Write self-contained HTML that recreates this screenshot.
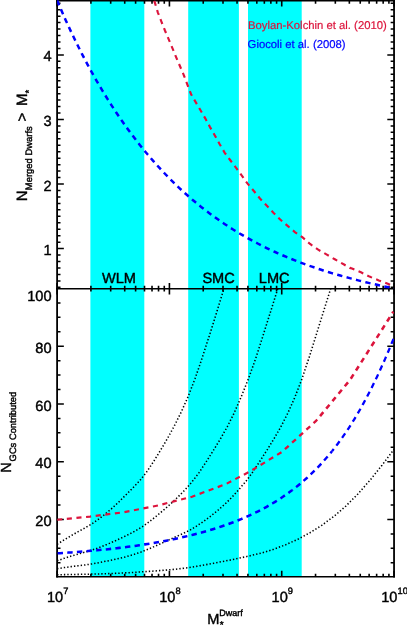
<!DOCTYPE html>
<html><head><meta charset="utf-8"><title>plot</title>
<style>html,body{margin:0;padding:0;background:#fff;}body{width:407px;height:626px;overflow:hidden;}svg{display:block;}text{font-family:"Liberation Sans",sans-serif;stroke-width:0.4px;text-rendering:geometricPrecision;}</style></head><body>
<svg width="407" height="626" viewBox="0 0 407 626" style="will-change:transform">
<rect x="0" y="0" width="407" height="626" fill="#fff"/>
<defs><clipPath id="ct"><rect x="57.10" y="0" width="336.95" height="288.70"/></clipPath><clipPath id="cl"><rect x="57.10" y="288.70" width="336.95" height="287.95"/></clipPath></defs>
<rect x="90.40" y="0" width="53.90" height="576.65" fill="#00ffff"/>
<rect x="188.20" y="0" width="50.70" height="576.65" fill="#00ffff"/>
<rect x="248.00" y="0" width="53.70" height="576.65" fill="#00ffff"/>
<g stroke="#000" fill="none" stroke-linecap="butt">
<path d="M57.10 0 V577.40" stroke-width="1.80"/>
<path d="M394.05 0 V577.40" stroke-width="1.80"/>
<path d="M56.20 0.75 H394.95" stroke-width="1.50"/>
<path d="M56.20 288.70 H394.95" stroke-width="1.50"/>
<path d="M56.20 576.65 H394.95" stroke-width="1.50"/>
</g>
<path d="M57.10 0.75 v5.80 M57.10 282.90 v11.60 M57.10 576.65 v-5.80 M90.91 0.75 v2.90 M90.91 285.80 v5.80 M90.91 576.65 v-2.90 M110.69 0.75 v2.90 M110.69 285.80 v5.80 M110.69 576.65 v-2.90 M124.72 0.75 v2.90 M124.72 285.80 v5.80 M124.72 576.65 v-2.90 M135.61 0.75 v2.90 M135.61 285.80 v5.80 M135.61 576.65 v-2.90 M144.50 0.75 v2.90 M144.50 285.80 v5.80 M144.50 576.65 v-2.90 M152.02 0.75 v2.90 M152.02 285.80 v5.80 M152.02 576.65 v-2.90 M158.53 0.75 v2.90 M158.53 285.80 v5.80 M158.53 576.65 v-2.90 M164.28 0.75 v2.90 M164.28 285.80 v5.80 M164.28 576.65 v-2.90 M169.42 0.75 v5.80 M169.42 282.90 v11.60 M169.42 576.65 v-5.80 M203.23 0.75 v2.90 M203.23 285.80 v5.80 M203.23 576.65 v-2.90 M223.01 0.75 v2.90 M223.01 285.80 v5.80 M223.01 576.65 v-2.90 M237.04 0.75 v2.90 M237.04 285.80 v5.80 M237.04 576.65 v-2.90 M247.92 0.75 v2.90 M247.92 285.80 v5.80 M247.92 576.65 v-2.90 M256.82 0.75 v2.90 M256.82 285.80 v5.80 M256.82 576.65 v-2.90 M264.34 0.75 v2.90 M264.34 285.80 v5.80 M264.34 576.65 v-2.90 M270.85 0.75 v2.90 M270.85 285.80 v5.80 M270.85 576.65 v-2.90 M276.59 0.75 v2.90 M276.59 285.80 v5.80 M276.59 576.65 v-2.90 M281.73 0.75 v5.80 M281.73 282.90 v11.60 M281.73 576.65 v-5.80 M315.54 0.75 v2.90 M315.54 285.80 v5.80 M315.54 576.65 v-2.90 M335.32 0.75 v2.90 M335.32 285.80 v5.80 M335.32 576.65 v-2.90 M349.35 0.75 v2.90 M349.35 285.80 v5.80 M349.35 576.65 v-2.90 M360.24 0.75 v2.90 M360.24 285.80 v5.80 M360.24 576.65 v-2.90 M369.13 0.75 v2.90 M369.13 285.80 v5.80 M369.13 576.65 v-2.90 M376.65 0.75 v2.90 M376.65 285.80 v5.80 M376.65 576.65 v-2.90 M383.17 0.75 v2.90 M383.17 285.80 v5.80 M383.17 576.65 v-2.90 M388.91 0.75 v2.90 M388.91 285.80 v5.80 M388.91 576.65 v-2.90 M394.05 0.75 v5.80 M394.05 282.90 v11.60 M394.05 576.65 v-5.80" stroke="#000" stroke-width="1.6" fill="none"/>
<path d="M57.10 287.34 h3.40 M394.05 287.34 h-3.40 M57.10 280.88 h3.40 M394.05 280.88 h-3.40 M57.10 274.43 h3.40 M394.05 274.43 h-3.40 M57.10 267.97 h3.40 M394.05 267.97 h-3.40 M57.10 261.51 h3.40 M394.05 261.51 h-3.40 M57.10 255.06 h3.40 M394.05 255.06 h-3.40 M57.10 248.60 h6.75 M394.05 248.60 h-6.75 M57.10 242.14 h3.40 M394.05 242.14 h-3.40 M57.10 235.69 h3.40 M394.05 235.69 h-3.40 M57.10 229.23 h3.40 M394.05 229.23 h-3.40 M57.10 222.77 h3.40 M394.05 222.77 h-3.40 M57.10 216.31 h3.40 M394.05 216.31 h-3.40 M57.10 209.86 h3.40 M394.05 209.86 h-3.40 M57.10 203.40 h3.40 M394.05 203.40 h-3.40 M57.10 196.94 h3.40 M394.05 196.94 h-3.40 M57.10 190.49 h3.40 M394.05 190.49 h-3.40 M57.10 184.03 h6.75 M394.05 184.03 h-6.75 M57.10 177.57 h3.40 M394.05 177.57 h-3.40 M57.10 171.12 h3.40 M394.05 171.12 h-3.40 M57.10 164.66 h3.40 M394.05 164.66 h-3.40 M57.10 158.20 h3.40 M394.05 158.20 h-3.40 M57.10 151.75 h3.40 M394.05 151.75 h-3.40 M57.10 145.29 h3.40 M394.05 145.29 h-3.40 M57.10 138.83 h3.40 M394.05 138.83 h-3.40 M57.10 132.37 h3.40 M394.05 132.37 h-3.40 M57.10 125.92 h3.40 M394.05 125.92 h-3.40 M57.10 119.46 h6.75 M394.05 119.46 h-6.75 M57.10 113.00 h3.40 M394.05 113.00 h-3.40 M57.10 106.55 h3.40 M394.05 106.55 h-3.40 M57.10 100.09 h3.40 M394.05 100.09 h-3.40 M57.10 93.63 h3.40 M394.05 93.63 h-3.40 M57.10 87.18 h3.40 M394.05 87.18 h-3.40 M57.10 80.72 h3.40 M394.05 80.72 h-3.40 M57.10 74.26 h3.40 M394.05 74.26 h-3.40 M57.10 67.80 h3.40 M394.05 67.80 h-3.40 M57.10 61.35 h3.40 M394.05 61.35 h-3.40 M57.10 54.89 h6.75 M394.05 54.89 h-6.75 M57.10 48.43 h3.40 M394.05 48.43 h-3.40 M57.10 41.98 h3.40 M394.05 41.98 h-3.40 M57.10 35.52 h3.40 M394.05 35.52 h-3.40 M57.10 29.06 h3.40 M394.05 29.06 h-3.40 M57.10 22.61 h3.40 M394.05 22.61 h-3.40 M57.10 16.15 h3.40 M394.05 16.15 h-3.40 M57.10 9.69 h3.40 M394.05 9.69 h-3.40 M57.10 3.23 h3.40 M394.05 3.23 h-3.40 M57.10 562.77 h3.40 M394.05 562.77 h-3.40 M57.10 548.33 h3.40 M394.05 548.33 h-3.40 M57.10 533.90 h3.40 M394.05 533.90 h-3.40 M57.10 519.46 h6.75 M394.05 519.46 h-6.75 M57.10 505.03 h3.40 M394.05 505.03 h-3.40 M57.10 490.59 h3.40 M394.05 490.59 h-3.40 M57.10 476.16 h3.40 M394.05 476.16 h-3.40 M57.10 461.72 h6.75 M394.05 461.72 h-6.75 M57.10 447.29 h3.40 M394.05 447.29 h-3.40 M57.10 432.85 h3.40 M394.05 432.85 h-3.40 M57.10 418.42 h3.40 M394.05 418.42 h-3.40 M57.10 403.98 h6.75 M394.05 403.98 h-6.75 M57.10 389.55 h3.40 M394.05 389.55 h-3.40 M57.10 375.11 h3.40 M394.05 375.11 h-3.40 M57.10 360.68 h3.40 M394.05 360.68 h-3.40 M57.10 346.24 h6.75 M394.05 346.24 h-6.75 M57.10 331.81 h3.40 M394.05 331.81 h-3.40 M57.10 317.37 h3.40 M394.05 317.37 h-3.40 M57.10 302.94 h3.40 M394.05 302.94 h-3.40" stroke="#000" stroke-width="1.5" fill="none"/>
<g fill="none" clip-path="url(#cl)">
<path d="M57.10 544.26 L64.00 539.99 L70.90 535.85 L77.79 531.85 L84.69 528.04 L91.59 524.03 L98.49 519.26 L105.39 513.90 L112.28 508.08 L119.18 501.59 L126.08 494.69 L132.98 487.77 L139.88 480.56 L146.77 471.81 L153.67 461.40 L160.57 450.20 L167.47 438.47 L174.36 425.81 L181.26 411.95 L188.16 396.48 L195.06 378.60 L201.96 358.60 L208.85 337.19 L215.75 315.19 L222.65 292.74 L225.36 284.00" stroke="#000" stroke-width="1.55" stroke-dasharray="1.35 2.05"/>
<path d="M57.10 560.73 L64.19 558.35 L71.27 556.08 L78.36 554.03 L85.45 552.03 L92.54 549.86 L99.62 547.35 L106.71 544.50 L113.80 541.46 L120.88 538.26 L127.97 534.82 L135.06 531.08 L142.15 526.84 L149.23 521.79 L156.32 516.16 L163.41 510.24 L170.49 504.01 L177.58 497.32 L184.67 490.27 L191.75 482.19 L198.84 472.87 L205.93 462.24 L213.02 451.01 L220.10 439.42 L227.19 426.92 L234.28 412.75 L241.36 396.44 L248.45 378.77 L255.54 358.94 L262.63 336.98 L269.71 314.41 L276.80 291.74 L279.22 284.00" stroke="#000" stroke-width="1.55" stroke-dasharray="1.35 2.05"/>
<path d="M57.10 568.65 L64.10 567.60 L71.09 566.62 L78.09 565.79 L85.09 564.94 L92.09 563.91 L99.08 562.59 L106.08 561.17 L113.08 559.81 L120.08 558.25 L127.07 556.44 L134.07 554.38 L141.07 552.03 L148.07 549.28 L155.06 546.22 L162.06 543.05 L169.06 539.84 L176.06 536.64 L183.05 533.58 L190.05 530.15 L197.05 525.83 L204.05 521.05 L211.04 515.87 L218.04 510.15 L225.04 503.99 L232.04 497.10 L239.03 489.37 L246.03 481.17 L253.03 471.59 L260.03 460.95 L267.02 450.05 L274.02 438.73 L281.02 426.49 L288.02 412.72 L295.01 396.91 L302.01 378.75 L309.01 357.77 L316.01 335.46 L323.00 313.11 L330.00 290.80 L332.13 284.00" stroke="#000" stroke-width="1.55" stroke-dasharray="1.35 2.05"/>
<path d="M57.10 574.73 L69.13 574.54 L81.16 574.33 L93.20 574.08 L105.23 573.75 L117.26 573.28 L129.29 572.65 L141.32 571.90 L153.36 571.08 L165.39 570.15 L177.42 569.04 L189.45 567.49 L201.49 565.50 L213.52 563.27 L225.55 560.94 L237.58 558.55 L249.61 555.89 L261.65 552.99 L273.68 549.27 L285.71 544.71 L297.74 539.33 L309.77 532.86 L321.81 525.29 L333.84 516.46 L345.87 506.06 L357.90 493.94 L369.94 480.32 L381.97 465.26 L394.00 449.38" stroke="#000" stroke-width="1.55" stroke-dasharray="1.35 2.05"/>
<path d="M57.10 519.81 L90.00 516.57 L124.00 512.17 L158.00 505.49 L192.00 496.69 L226.00 484.04 L250.00 471.49 L282.00 451.88" stroke="#dc143c" stroke-width="2.15" stroke-dasharray="5.1 4.575" stroke-dashoffset="9.60"/>
<path d="M282.00 451.88 L282.00 451.88 L316.00 420.96 L320.00 416.14" stroke="#dc143c" stroke-width="2.35" stroke-dasharray="5.1 4.575" stroke-dashoffset="247.60"/>
<path d="M320.00 416.14 L350.00 379.95 L393.30 311.79" stroke="#dc143c" stroke-width="2.55" stroke-dasharray="5.1 4.575" stroke-dashoffset="299.83"/>
<path d="M57.10 553.32 L59.93 553.15 L62.76 552.97 L65.59 552.79 L68.43 552.60 L71.26 552.41 L74.09 552.20 L76.92 551.99 L79.75 551.78 L82.58 551.55 L85.42 551.32 L88.25 551.08 L91.08 550.84 L93.91 550.58 L96.74 550.32 L99.57 550.05 L102.40 549.77 L105.24 549.48 L108.07 549.18 L110.90 548.87 L113.73 548.56 L116.56 548.23 L119.39 547.89 L122.22 547.55 L125.06 547.19 L127.89 546.82 L130.72 546.45 L133.55 546.06 L136.38 545.66 L139.21 545.24 L142.05 544.82 L144.88 544.38 L147.71 543.93 L150.54 543.47 L153.37 543.00 L156.20 542.51 L159.03 542.01 L161.87 541.49 L164.70 540.96 L167.53 540.41 L170.36 539.85 L173.19 539.27 L176.02 538.68 L178.86 538.07 L181.69 537.44 L184.52 536.80 L187.35 536.13 L190.18 535.45 L193.01 534.75 L195.84 534.02 L198.68 533.28 L201.51 532.52 L204.34 531.73 L207.17 530.92 L210.00 530.08 L212.83 529.22 L215.66 528.34 L218.50 527.43 L221.33 526.49 L224.16 525.52 L226.99 524.53 L229.82 523.50 L232.65 522.44 L235.49 521.35 L238.32 520.22 L241.15 519.06 L243.98 517.87 L246.81 516.63 L249.64 515.35 L252.47 514.04 L255.31 512.68 L258.14 511.27 L260.97 509.82 L263.80 508.32 L266.63 506.77 L269.46 505.17 L272.29 503.51 L275.13 501.80 L277.96 500.03 L280.79 498.20 L283.62 496.30 L286.45 494.34 L289.28 492.31 L292.00 490.29" stroke="#0000ff" stroke-width="2.55" stroke-dasharray="5.4 4.265" stroke-dashoffset="9.15"/>
<path d="M292.00 490.29 L292.12 490.21 L294.95 488.03 L297.78 485.78 L300.61 483.44 L303.44 481.02 L306.27 478.52 L309.10 475.92 L311.94 473.23 L314.77 470.45 L317.60 467.56 L320.43 464.57 L323.26 461.47 L326.09 458.26 L328.93 454.93 L331.76 451.48 L332.00 451.17" stroke="#0000ff" stroke-width="2.45" stroke-dasharray="5.4 4.265" stroke-dashoffset="255.78"/>
<path d="M332.00 451.17 L334.59 447.90 L337.42 444.20 L340.25 440.37 L343.08 436.40 L345.91 432.28 L348.75 428.02 L351.58 423.62 L354.41 419.05 L357.24 414.34 L360.07 409.46 L362.90 404.42 L365.73 399.21 L368.57 393.83 L371.40 388.27 L374.23 382.54 L377.06 376.64 L379.89 370.56 L382.72 364.30 L385.56 357.86 L388.39 351.24 L391.22 344.45 L394.05 337.49" stroke="#0000ff" stroke-width="2.30" stroke-dasharray="5.4 4.265" stroke-dashoffset="311.87"/>
</g>
<g fill="none" clip-path="url(#ct)">
<path d="M152.50 -4.11 L155.10 3.40 L157.80 12.30 L161.40 21.60 L164.95 30.50 L168.62 39.10 L172.50 48.30 L176.20 57.40 L180.12 66.53 L183.68 74.80 L187.20 84.20 L191.10 94.25 L195.53 101.90 L200.50 110.20 L205.40 118.60 L210.00 127.10 L214.55 134.95 L219.70 144.20 L224.75 152.80 L230.30 160.25 L236.10 167.80 L242.00 175.80 L247.40 183.40 L254.25 191.50 L259.95 198.55 L266.90 205.70 L273.40 212.70 L280.20 219.50 L287.60 225.90 L294.90 232.10 L302.60 237.45 L310.10 244.00 L318.20 249.70 L326.40 254.40 L334.80 259.30 L344.10 264.55 L349.80 267.90 L352.00 268.50 L361.00 272.30 L369.50 276.60 L378.80 280.40 L387.80 283.80 L395.00 286.63" stroke="#dc143c" stroke-width="2.15" stroke-dasharray="5.2 4.505" stroke-dashoffset="4.5"/>
<path d="M57.10 0.45 L59.93 7.09 L62.76 13.57 L65.59 19.91 L68.43 26.10 L71.26 32.16 L74.09 38.08 L76.92 43.87 L79.75 49.53 L82.58 55.07 L85.42 60.49 L88.25 65.79 L91.08 70.98 L93.91 76.06 L96.74 81.03 L99.57 85.89 L102.40 90.65 L105.24 95.31 L108.07 99.87 L110.90 104.33 L113.73 108.70 L116.56 112.98 L119.39 117.17 L122.22 121.28 L125.06 125.29 L127.89 129.23 L130.72 133.08 L133.55 136.85 L136.38 140.54 L139.21 144.16 L142.05 147.70 L144.88 151.17 L147.71 154.56 L150.54 157.89 L153.37 161.14 L156.20 164.33 L159.03 167.45 L161.87 170.51 L164.70 173.50 L167.53 176.43 L170.36 179.30 L173.19 182.11 L176.02 184.86 L178.86 187.56 L181.69 190.19 L184.52 192.78 L187.35 195.30 L190.18 197.78 L193.01 200.20 L195.84 202.57 L198.68 204.89 L201.51 207.17 L204.34 209.39 L207.17 211.57 L210.00 213.70 L212.83 215.79 L215.66 217.83 L218.50 219.83 L221.33 221.79 L224.16 223.70 L226.99 225.58 L229.82 227.41 L232.65 229.21 L235.49 230.97 L238.32 232.69 L241.15 234.37 L243.98 236.02 L246.81 237.64 L249.64 239.21 L252.47 240.76 L255.31 242.27 L258.14 243.75 L260.97 245.20 L263.80 246.62 L266.63 248.01 L269.46 249.37 L272.29 250.70 L275.13 252.01 L277.96 253.28 L280.79 254.53 L283.62 255.75 L286.45 256.95 L289.28 258.12 L292.12 259.27 L294.95 260.39 L297.78 261.49 L300.61 262.57 L303.44 263.63 L306.27 264.66 L309.10 265.68 L311.94 266.67 L314.77 267.64 L317.60 268.59 L320.43 269.53 L323.26 270.44 L326.09 271.34 L328.93 272.22 L331.76 273.08 L334.59 273.93 L337.42 274.75 L340.25 275.57 L343.08 276.36 L345.91 277.15 L348.75 277.91 L351.58 278.66 L354.41 279.40 L357.24 280.13 L360.07 280.84 L362.90 281.53 L365.73 282.22 L368.57 282.89 L371.40 283.55 L374.23 284.20 L377.06 284.84 L379.89 285.46 L382.72 286.08 L385.56 286.68 L388.39 287.28 L391.22 287.86 L394.05 288.43" stroke="#0000ff" stroke-width="2.5" stroke-dasharray="5.3 4.4" stroke-dashoffset="0"/>
</g>
<text x="51.50" y="255.10" font-size="14.60" text-anchor="end" fill="#000" stroke="#000" >1</text>
<text x="51.50" y="190.53" font-size="14.60" text-anchor="end" fill="#000" stroke="#000" >2</text>
<text x="51.50" y="125.96" font-size="14.60" text-anchor="end" fill="#000" stroke="#000" >3</text>
<text x="51.50" y="61.39" font-size="14.60" text-anchor="end" fill="#000" stroke="#000" >4</text>
<text x="51.60" y="526.06" font-size="14.60" text-anchor="end" fill="#000" stroke="#000" >20</text>
<text x="51.60" y="468.32" font-size="14.60" text-anchor="end" fill="#000" stroke="#000" >40</text>
<text x="51.60" y="410.58" font-size="14.60" text-anchor="end" fill="#000" stroke="#000" >60</text>
<text x="51.60" y="352.84" font-size="14.60" text-anchor="end" fill="#000" stroke="#000" >80</text>
<text x="51.60" y="300.50" font-size="14.60" text-anchor="end" fill="#000" stroke="#000" >100</text>
<text x="46.90" y="602.2" font-size="14.60" stroke="#000">10<tspan font-size="9.30" dy="-8.3">7</tspan></text>
<text x="159.21" y="602.2" font-size="14.60" stroke="#000">10<tspan font-size="9.30" dy="-8.3">8</tspan></text>
<text x="271.53" y="602.2" font-size="14.60" stroke="#000">10<tspan font-size="9.30" dy="-8.3">9</tspan></text>
<text x="381.26" y="602.2" font-size="14.60" stroke="#000">10<tspan font-size="9.30" dy="-8.3">10</tspan></text>
<text x="101.90" y="282.70" font-size="14.60" text-anchor="start" fill="#000" stroke="#000" >WLM</text>
<text x="202.40" y="282.90" font-size="14.60" text-anchor="start" fill="#000" stroke="#000" >SMC</text>
<text x="258.80" y="282.90" font-size="14.60" text-anchor="start" fill="#000" stroke="#000" >LMC</text>
<text x="248.00" y="29.40" font-size="11.30" text-anchor="start" fill="#dc143c" stroke="#dc143c" style="stroke-width:0.2px">Boylan-Kolchin et al. (2010)</text>
<text x="247.60" y="48.00" font-size="11.30" text-anchor="start" fill="#0000ff" stroke="#0000ff" style="stroke-width:0.2px">Giocoli et al. (2008)</text>
<text x="207.2" y="624.1" font-size="14.60" stroke="#000">M<tspan font-size="9" dy="-7.9">Dwarf</tspan></text>
<text x="219.7" y="628.2" font-size="10" stroke="#000">*</text>
<text transform="rotate(-90)" x="-201.30" y="27.30" font-size="14.90" stroke="#000">N</text>
<text transform="rotate(-90)" x="-190.20" y="31.70" font-size="9.45" stroke="#000">Merged Dwarfs</text>
<text transform="rotate(-90)" x="-121.50" y="27.30" font-size="14.90" stroke="#000">&gt;</text>
<text transform="rotate(-90)" x="-105.90" y="27.30" font-size="14.90" stroke="#000">M</text>
<text transform="rotate(-90)" x="-93.40" y="32.40" font-size="9.60" stroke="#000">*</text>
<text transform="rotate(-90)" x="-472.80" y="10.90" font-size="14.60" stroke="#000">N</text>
<text transform="rotate(-90)" x="-461.40" y="15.60" font-size="9.35" stroke="#000">GCs Contributed</text>
</svg></body></html>
